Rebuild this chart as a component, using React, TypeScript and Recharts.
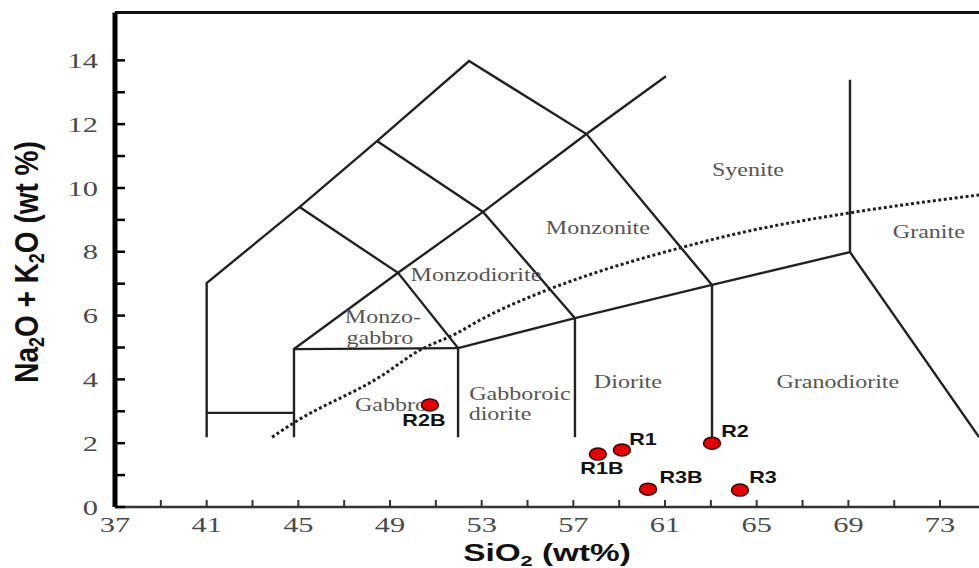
import React from "react";
import { ComposedChart, Line, Scatter, XAxis, YAxis, ReferenceLine } from "recharts";

// axis ranges / ticks
const X_MIN = 37;
const X_MAX = 74.7;
const Y_MAX = 15.5;
const X_TICKS = [37, 39, 41, 43, 45, 47, 49, 51, 53, 55, 57, 59, 61, 63, 65, 67, 69, 71, 73];
const Y_TICKS = [0, 1, 2, 3, 4, 5, 6, 7, 8, 9, 10, 11, 12, 13, 14];

// field boundaries, [SiO2, Na2O+K2O]
const outerRim = [[41, 2.19], [41, 7.02], [45.05, 9.4], [48.43, 11.47], [52.45, 13.98], [57.57, 11.69], [63.05, 6.96], [63.05, 2.19]];
const monzogabbroTop = [[45.05, 9.4], [49.35, 7.34], [51.97, 4.98], [51.97, 2.19]];
const monzoniteLeft = [[48.43, 11.47], [53.06, 9.25], [57.07, 5.92], [57.07, 2.19]];
const risingLine = [[44.81, 4.95], [49.35, 7.34], [53.06, 9.25], [57.57, 11.69], [61.04, 13.5]];
const gabbroTop = [[44.81, 2.19], [44.81, 4.95], [51.97, 4.98]];
const gabbroStep = [[41, 2.95], [44.81, 2.95]];
const dioriteTop = [[51.97, 4.98], [57.07, 5.92], [63.05, 6.96], [69.07, 7.99], [74.7, 2.19]];
const graniteLeft = [[69.07, 7.99], [69.07, 13.39]];
const alkalineDivide = [[43.85, 2.19], [44.85, 2.66], [48.56, 4.08], [50.31, 4.92], [51.92, 5.45], [52.93, 5.86], [55.85, 6.8], [57.29, 7.18], [61.65, 8.12], [64.27, 8.59], [69.07, 9.22], [74.7, 9.78]];

const boundaries = [outerRim, monzogabbroTop, monzoniteLeft, risingLine, gabbroTop, gabbroStep, dioriteTop, graniteLeft];

// field names
const fieldNames = ["Syenite", "Granite", "Monzonite", "Monzodiorite", "Monzo-", "gabbro", "Gabbro", "Gabboroic", "diorite", "Diorite", "Granodiorite"];
const fieldSio2 = [64.62, 72.51, 58.07, 52.75, 48.69, 48.56, 49.04, 54.67, 53.8, 59.38, 68.54];
const fieldAlk = [10.56, 8.62, 8.75, 7.27, 5.95, 5.3, 3.2, 3.53, 2.93, 3.92, 3.92];

// samples
const sampleNames = ["R2B", "R1B", "R1", "R2", "R3B", "R3"];
const sampleSio2 = [50.74, 58.07, 59.12, 63.05, 60.26, 64.27];
const sampleAlk = [3.2, 1.66, 1.79, 2.0, 0.56, 0.53];

const LABEL_OFFSET: Record<string, [number, number]> = {
  R2B: [-6, 15],
  R1B: [4, 14],
  R1: [21, -11],
  R2: [23, -12],
  R3B: [33, -12],
  R3: [23, -13],
};

const SERIF = "'Liberation Serif', 'Times New Roman', serif";
const SANS = "'Liberation Sans', Arial, sans-serif";
const LINE = "#222";
const LABEL_GRAY = "#555";

const toPts = (arr: number[][]) => arr.map(([x, y]) => ({ x, y }));
const fieldData = fieldNames.map((text, i) => ({ x: fieldSio2[i], y: fieldAlk[i], text }));
const sampleData = sampleNames.map((name, i) => ({ x: sampleSio2[i], y: sampleAlk[i], name }));

function XTick(props: any) {
  const { x, y, payload } = props;
  const v = payload.value;
  if ((v - X_MIN) % 4 !== 0) return <g />;
  return (
    <text transform={`translate(${x} ${y}) scale(1.45 1)`} textAnchor="middle" dy="0.71em"
      fontSize={21} fontFamily={SERIF} fill="#4a4a4a">
      {v}
    </text>
  );
}

function YTick(props: any) {
  const { x, y, payload } = props;
  const v = payload.value;
  if (v % 2 !== 0) return <g />;
  return (
    <text transform={`translate(${x} ${y}) scale(1.45 1)`} textAnchor="end" dy="0.36em"
      fontSize={21} fontFamily={SERIF} fill="#4a4a4a">
      {v}
    </text>
  );
}

function FieldLabel(props: any) {
  const { cx, cy, payload } = props;
  return (
    <text transform={`translate(${cx} ${cy}) scale(1.3 1)`} textAnchor="middle" dy="0.33em"
      fontSize={18.5} fontFamily={SERIF} fill={LABEL_GRAY}>
      {payload.text}
    </text>
  );
}

function SampleDot(props: any) {
  const { cx, cy, payload } = props;
  const [dx, dy] = LABEL_OFFSET[payload.name] || [0, 0];
  return (
    <g>
      <ellipse cx={cx} cy={cy} rx={8.5} ry={6} fill="#e60000" stroke="#3a0000" strokeWidth={1.5} />
      <text transform={`translate(${cx + dx} ${cy + dy}) scale(1.35 1)`} textAnchor="middle" dy="0.36em"
        fontSize={16} fontWeight="bold" fontFamily={SANS} fill="#111">
        {payload.name}
      </text>
    </g>
  );
}

function YLabel() {
  return (
    <text transform="translate(38 262) rotate(-90) scale(1 1.2)" textAnchor="middle"
      fontSize={28} fontWeight="bold" fontFamily={SANS} fill="#111">
      Na<tspan fontSize={18} dy={5}>2</tspan><tspan dy={-5}>O + K</tspan>
      <tspan fontSize={18} dy={5}>2</tspan><tspan dy={-5}>O (wt %)</tspan>
    </text>
  );
}

function XLabel(props: any) {
  const vb = props.viewBox || { x: 115, width: 864 };
  const cx = vb.x + vb.width / 2;
  return (
    <text transform={`translate(${cx} 561) scale(1.45 1)`} textAnchor="middle"
      fontSize={23} fontWeight="bold" fontFamily={SANS} fill="#111">
      SiO<tspan fontSize={15} dy={5}>2</tspan><tspan dy={-5}> (wt%)</tspan>
    </text>
  );
}

export default function App() {
  return (
    <div style={{ position: "absolute", left: 0, top: 0, width: 979, height: 568, background: "#fff" }}>
      <ComposedChart width={979} height={568} margin={{ top: 12.5, right: 0, bottom: 21, left: 0 }}>
        <XAxis
          type="number"
          dataKey="x"
          domain={[X_MIN, X_MAX]}
          ticks={X_TICKS}
          allowDataOverflow
          height={40}
          tickSize={-7}
          tickMargin={17}
          tick={<XTick />}
          axisLine={{ stroke: "#333", strokeWidth: 2.5 }}
          tickLine={{ stroke: "#333", strokeWidth: 2 }}
          label={{ content: XLabel }}
        />
        <YAxis
          type="number"
          dataKey="y"
          domain={[0, Y_MAX]}
          ticks={Y_TICKS}
          allowDataOverflow
          width={115}
          tickSize={-10}
          tickMargin={27}
          tick={<YTick />}
          axisLine={{ stroke: "#000", strokeWidth: 5 }}
          tickLine={{ stroke: "#000", strokeWidth: 2.5 }}
          label={{ content: YLabel }}
        />
        <ReferenceLine y={Y_MAX} stroke="#111" strokeWidth={3} />
        {boundaries.map((b, i) => (
          <Line
            key={i}
            data={toPts(b)}
            dataKey="y"
            type="linear"
            stroke={LINE}
            strokeWidth={2.4}
            dot={false}
            activeDot={false}
            isAnimationActive={false}
          />
        ))}
        <Line
          data={toPts(alkalineDivide)}
          dataKey="y"
          type="monotone"
          stroke={LINE}
          strokeWidth={3}
          strokeDasharray="3 2.5"
          dot={false}
          activeDot={false}
          isAnimationActive={false}
        />
        <Scatter data={fieldData} dataKey="y" shape={<FieldLabel />} isAnimationActive={false} />
        <Scatter data={sampleData} dataKey="y" shape={<SampleDot />} isAnimationActive={false} />
      </ComposedChart>
    </div>
  );
}
